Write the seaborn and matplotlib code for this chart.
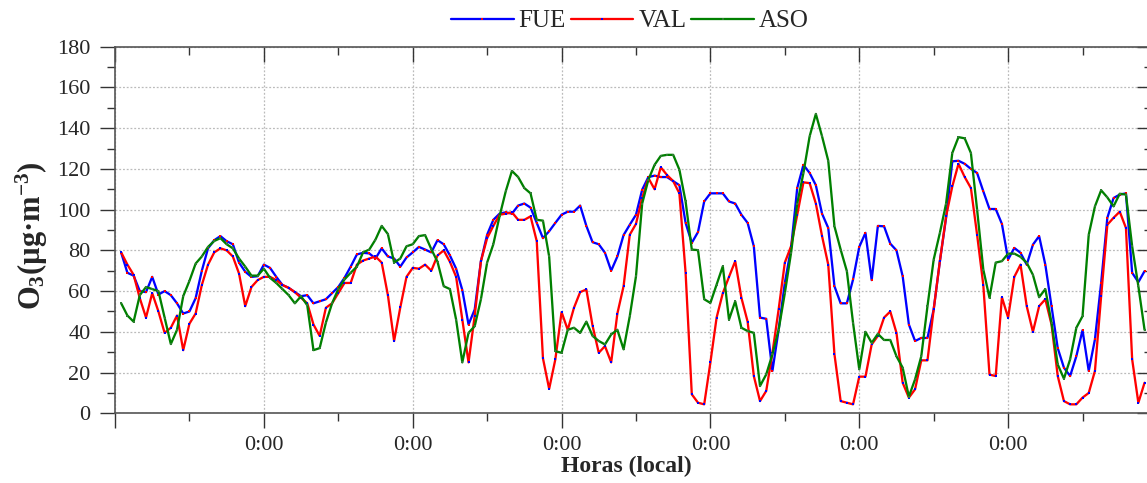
import numpy as np
import pandas as pd
import matplotlib
matplotlib.use("Agg")
import matplotlib.pyplot as plt
from matplotlib.ticker import MultipleLocator, FixedLocator
import seaborn as sns

# ---------------- data (hourly O3, µg/m3) ----------------
hours = np.arange(1, 167)

fue = [78.8, 69, 67.6, 60, 59.5, 67, 58.3, 60, 58, 54, 49, 50, 56.5, 70, 81, 85, 87, 84.5, 83, 74, 69.5, 67, 67.3, 73,
       71.4, 67, 63, 61.6, 59.5, 57.5, 58, 54, 55, 56, 59, 62, 66.5, 72, 78, 78.8, 78.5, 76, 81, 77, 76, 72, 76.5, 79,
       81.7, 80.4, 79, 85, 83, 77.5, 71, 60.5, 43.6, 51, 74.7, 87.7, 95, 98, 98.7, 98, 102, 103, 101, 93.5, 86, 89.4, 93.5, 97.5,
       99, 99, 102, 92, 84, 83, 78.8, 70, 77, 87.5, 92.6, 97.5, 109.8, 116, 116.7, 116, 116, 114, 112, 93.5, 83.7, 89, 104, 108,
       108, 108, 104, 103, 97.5, 93.5, 82, 47, 46.4, 20.8, 41, 64, 81, 110.6, 122, 118, 112, 98, 91, 62.4, 54, 54, 65.7, 81.7,
       88.6, 65.4, 92, 91.8, 83.3, 80, 67.3, 43.6, 35.5, 37, 37, 51, 74.7, 96, 123.7, 124, 122.5, 120, 118, 109, 100.3, 100.3, 93, 75.5,
       81.2, 78.8, 73, 82.8, 87, 73, 52.6, 32, 22.4, 18.3, 28, 40.8, 20.8, 36.3, 64, 96, 105.7, 107.4, 108, 69, 64.4, 69.8]

val = [79, 73, 68, 56.5, 47, 59, 50, 39.5, 42, 48, 31, 44, 49, 63, 73, 79, 81, 80, 77, 68.6, 52.6, 62, 65.4, 67,
       67, 65.4, 63, 61.6, 59.5, 56.7, 54, 43.6, 38, 51.8, 54, 59, 64, 64, 73, 75, 76, 77, 74, 58, 35.5, 52, 67, 71.4,
       71, 73, 70, 77.5, 80, 74.4, 67, 46, 25, 48, 74.7, 86, 92, 97.5, 98, 98.7, 95, 95, 96.7, 84.5, 27, 12, 26.5, 49.7,
       41, 51.8, 59.5, 60.8, 43, 29.7, 33, 25, 49, 62.4, 87.7, 93, 105.7, 115.5, 110, 120.8, 117, 114, 108, 69, 9.3, 5.2, 4.4, 25,
       47, 59, 67, 74.7, 56.7, 45, 18.3, 6, 11, 29.7, 51, 74, 82, 97.5, 113.4, 113, 103, 87, 73, 29, 6, 5.2, 4.4, 18,
       18, 33.8, 38, 47, 50, 39.5, 15, 7.7, 11.8, 26, 26, 51, 74.7, 96.7, 111.4, 122.5, 116, 110.6, 87.7, 63, 19, 18.3, 57, 47,
       67, 73, 52.6, 40, 52.6, 56, 43.6, 18.3, 6, 4.4, 4.4, 7.7, 10, 20.8, 57.5, 92.6, 96, 99, 91, 26.5, 5.2, 15]

aso = [54, 48, 45, 58, 62, 61, 60, 47, 34, 41, 57.5, 65, 73.5, 77, 81.7, 84.6, 86, 83, 81, 76, 72, 67.6, 67.6, 71,
       66.5, 64, 61, 58, 54, 57.5, 53, 31, 32, 44.5, 54, 61, 65.7, 69, 72, 79, 80.4, 85.3, 92, 88, 74, 76, 82, 83,
       87, 87.5, 80.6, 74.4, 62.4, 61, 46, 25, 39.5, 42.8, 56, 74, 83, 96.7, 109, 119, 116, 110.6, 108, 95, 94.6, 77, 30.5, 29.7,
       41, 42, 39.5, 45, 38, 35.5, 33.8, 38.7, 41, 31.4, 47.7, 67.3, 103, 114.7, 122, 126.4, 126.9, 126.9, 119.6, 104, 80.4, 80.1, 56, 54.2,
       63.2, 72.2, 46, 55, 42, 40.4, 39.5, 13.4, 19.1, 29, 41, 59, 78.7, 103, 118, 136, 147, 136, 124, 91.8, 80.4, 69.8, 44.4, 21.6,
       40, 34.6, 39, 36, 36, 28, 22.4, 8.2, 16.7, 28, 52.6, 75.5, 88.6, 103, 127.8, 135.6, 135, 127.8, 100, 70.6, 56.7, 74, 74.7, 78.4,
       78.4, 76.8, 73.9, 68, 57, 61, 44.4, 24, 17, 26.5, 42, 47.7, 87.7, 101.6, 109.5, 106, 101.6, 107.8, 107.4, 82, 62.4, 41]

series_names = ["FUE", "VAL", "ASO"]
x_major = [0, 24, 48, 72, 96, 120, 144, 168]
x_labels = ["", "0:00", "0:00", "0:00", "0:00", "0:00", "0:00", ""]
y_ticks = [0, 20, 40, 60, 80, 100, 120, 140, 160, 180]

# ---------------- style ----------------
sns.set_style("ticks")
plt.rcParams["font.family"] = ["Liberation Serif", "DejaVu Serif"]
plt.rcParams["mathtext.fontset"] = "custom"
plt.rcParams["mathtext.rm"] = "Liberation Serif:bold"
plt.rcParams["mathtext.bf"] = "Liberation Serif:bold"
plt.rcParams["mathtext.it"] = "Liberation Serif:bold"
plt.rcParams["mathtext.default"] = "bf"

W, H = 1147, 483
fig = plt.figure(figsize=(W / 100, H / 100), dpi=100)
left, right, top, bottom = 115, 1152, 46.7, 413.3
ax = fig.add_axes([left / W, 1 - bottom / H, (right - left) / W, (bottom - top) / H])

df = pd.DataFrame({"hour": hours, "FUE": fue, "VAL": val, "ASO": aso})
styles = {
    "FUE": dict(color="#0000FF", mfc="#FF0000"),
    "VAL": dict(color="#FF0000", mfc="#0000FF"),
    "ASO": dict(color="#008000", mfc="#2E7D32"),
}
for name in series_names:
    st = styles[name]
    sns.lineplot(data=df, x="hour", y=name, ax=ax, color=st["color"], lw=1.65,
                 marker="s", markersize=1.8, markeredgewidth=0,
                 markerfacecolor=st["mfc"], label=name, legend=False)

ax.set_xlim(0, 167.2)
ax.set_ylim(0, 180)
ax.xaxis.set_major_locator(FixedLocator(x_major))
ax.set_xticklabels(x_labels)
ax.xaxis.set_minor_locator(FixedLocator([12, 36, 60, 84, 108, 132, 156]))
ax.set_yticks(y_ticks)
ax.yaxis.set_minor_locator(MultipleLocator(10))

ax.tick_params(axis="both", which="major", length=11, width=1.0, color="#333333",
               labelsize=16, top=True, right=True)
ax.tick_params(axis="both", which="minor", length=5.5, width=1.0, color="#333333",
               top=True, right=True)
ax.tick_params(axis="x", which="both", pad=5)
ax.tick_params(axis="y", which="major", pad=6.5)
# top/right ticks point inward
for t in ax.xaxis.get_major_ticks() + ax.xaxis.get_minor_ticks():
    t.tick2line.set_marker(3)
for t in ax.yaxis.get_major_ticks() + ax.yaxis.get_minor_ticks():
    t.tick2line.set_marker(0)

for sp in ax.spines.values():
    sp.set_color("#555555")
    sp.set_linewidth(1.2)

ax.grid(True, which="major", axis="both", linestyle=(0, (1.5, 1.5)), color="#bbbbbb", lw=0.9)

ax.set_xlabel("Horas (local)", fontsize=17, fontweight="bold")
ax.xaxis.set_label_coords((626.5 - left) / (right - left), -0.115)
ax.set_ylabel("O$_3$(µg·m$^{-3}$)", fontsize=22, fontweight="bold")
ax.yaxis.set_label_coords(-0.063, 0.485)

handles, labels = ax.get_legend_handles_labels()
fig.legend(handles, labels, loc="center", bbox_to_anchor=(630 / W, 1 - 21 / H), ncol=3,
           frameon=False, fontsize=18, handlelength=2.5, handletextpad=0.2,
           columnspacing=0.2, borderaxespad=0)

fig.savefig("out.png", dpi=100)
